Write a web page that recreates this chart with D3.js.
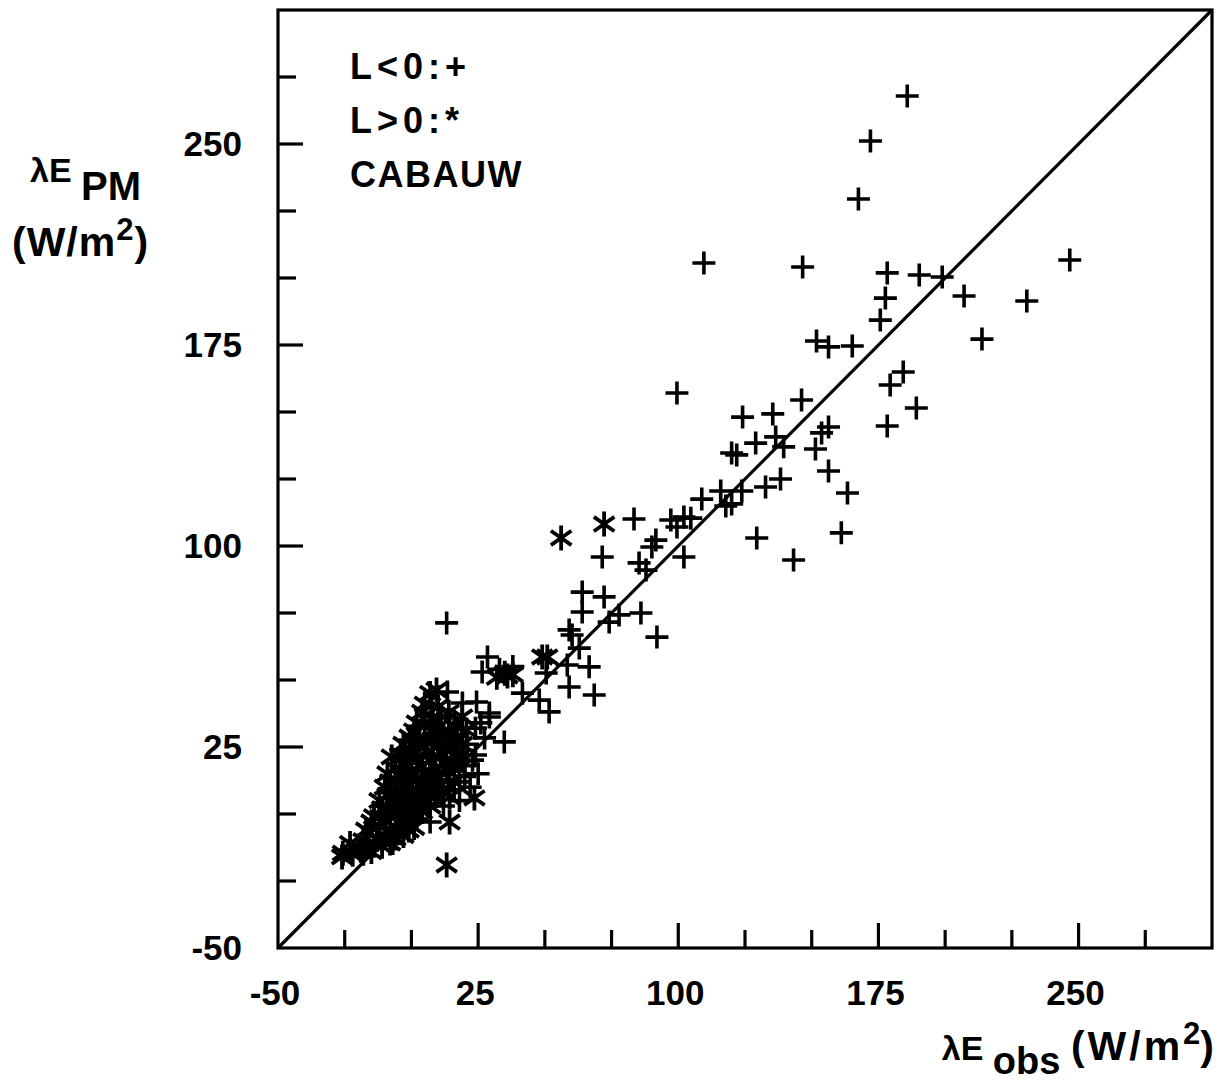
<!DOCTYPE html>
<html>
<head>
<meta charset="utf-8">
<script src="https://cdn.jsdelivr.net/npm/d3@7"></script>
<style>
  html, body { margin: 0; padding: 0; background: #fff; }
  svg { display: block; }
  text { font-family: "Liberation Sans", Arial, Helvetica, sans-serif; font-weight: bold; fill: #000; }
</style>
</head>
<body>
<svg id="chart" width="1224" height="1084"></svg>
<script>
// ---- data (λE_obs, λE_PM) in W/m2 ----
// L<0 (unstable) : plus markers
const unstablePoints = [
  [185.8,267.9],[172.0,251.1],[167.5,229.5],[109.6,205.6],[146.6,204.1],[178.3,201.9],[190.3,201.1],
  [198.9,200.4],[246.7,206.7],[177.6,192.5],[207.1,193.3],[230.6,191.4],[175.7,184.3],[213.8,177.2],
  [151.8,176.5],[156.3,174.3],[165.2,174.6],[99.5,157.1],[184.3,164.9],[179.4,160.1],[189.2,151.5],
  [146.2,154.5],[124.1,148.1],[135.4,149.3],[178.3,144.8],[156.3,144.4],[153.7,142.2],[129.0,138.4],
  [136.5,140.7],[139.5,137.0],[120.0,134.7],[121.9,134.0],[151.4,136.2],[156.3,128.0],[138.3,125.0],
  [132.7,122.0],[163.4,119.8],[108.8,117.5],[115.9,120.5],[123.8,120.5],[120.0,115.7],[117.8,114.9],
  [161.1,104.9],[129.4,103.0],[143.2,94.8],[83.4,110.1],[97.2,109.7],[102.1,110.8],[104.7,110.4],
  [99.5,107.1],[91.6,102.2],[90.1,99.6],[71.5,95.9],[102.1,95.9],[85.3,93.7],[87.9,91.0],[64.0,82.8],
  [72.2,81.0],[64.0,75.4],[77.8,74.3],[74.1,71.6],[86.0,75.0],[92.0,66.0],[59.1,68.7],[60.2,66.8],
  [62.9,61.9],[58.4,55.6],[66.6,54.9],[68.5,44.4],[59.1,47.4],[50.5,52.6],[47.9,42.5],[51.6,38.1],
  [41.6,45.1],[29.2,37.7],[13.2,71.3],
  [13.5,45.5],[19.1,41.4],[24.4,41.8],[29.2,36.2],[34.8,26.9],[27.4,28.4],[22.9,20.1],[16,25],[12,30],
  [14,16],[10,8],[18,12],[6,3],[2,-2],[-3,-6],[-12,-8],[-18,-15],[8,22],[4,14],[-2,2],[21,26],
  [28.5,58.6],[26.5,53],[33,54],[38,55],[24,32],[17,29],[11,36],[-4,24],[-8,8],[25,15],
  [20,18],[16,9],[12,3],[7,-3],[-7,-11],[-14,-12],[0,19],[5,29],[19,22],
  [20,14],[24,22],[18,5],[22,10],[26,34]
];
// L>0 (stable) : asterisk markers
const stablePoints = [
  [-26,-16],[-22,-15],[-19,-13.5],[-15,-14],[-11,-12],
  [-23,-11],[-18,-10],[-13,-9.5],[-8,-10.8],[-3,-8],
  [-17,-6],[-12,-4.5],[-8,-6],[-4,-3],[1,-5],
  [-14,-1],[-9.3,0.4],[-5,1],[0,-1],[4,1],
  [-12,5],[-7,4],[-3,6],[2,5],[6,7],
  [-10,10],[-6,9],[-1,11],[4,10],[8,11],
  [-9,15],[-4,14],[0,16],[5,15],[10,14],[14,16],
  [-7.4,21.3],[-2,19],[2,21],[7,20],[12,19],[17,21],
  [-0.7,28.7],[0,24],[5,25],[10,26],[15,24],[19,26],
  [1,31],[6.8,34],[9,30],[14,31],[20.6,31.3],
  [4,38],[8,36],[19,36.2],
  [9.4,46.3],[7,45],
  [14.3,6.3],[23.6,6],[14.3,-3],[13.2,-19],[-25.7,-14.6],
  [49,58.6],[50.9,58.6],[56.1,103],[72.2,108.2],[32,51],[36,51.5],[38,52],[35,52.5],
  [-20,-12],[-16,-11],[-10,-8],[-6,-9],[-1,-6],
  [-15,-3],[-10,-2],[-6,-1],[-2,-2],[2,0],
  [-11,2],[-6,3],[-1,3],[3,4],[7,3],
  [-9,7],[-4,7],[0,8],[5,8],[9,7],
  [-8,12],[-3,13],[2,13],[7,13],[11,11],
  [-6,17],[-1,18],[4,18],[9,17],[13,19],
  [-4,22],[1,23],[6,23],[11,23],[16,22],
  [-3,26],[3,28],[8,28],[12,27],[17,28],
  [2,34],[11,33],[16,33],
  [5,41],[10,40],[14,38],
  [16,12],[18,17],[12,8]
];
const axisDomain = [-50, 300];
const labeledTicks = [-50, 25, 100, 175, 250];
const minorTicks = [-25, 0, 50, 75, 125, 150, 200, 225, 275];
const legendLines = ["L<0:+", "L>0:*", "CABAUW"];

// ---- drawing ----
const svg = d3.select("#chart");
const padL = 278, padR = 1212, padT = 10, padB = 948;
const x = d3.scaleLinear().domain(axisDomain).range([padL, padR]);
const y = d3.scaleLinear().domain(axisDomain).range([padB, padT]);

// 1:1 line
svg.append("line")
  .attr("x1", x(axisDomain[0])).attr("y1", y(axisDomain[0]))
  .attr("x2", x(axisDomain[1])).attr("y2", y(axisDomain[1]))
  .attr("stroke", "#000").attr("stroke-width", 3.2);

// frame
svg.append("rect")
  .attr("x", padL).attr("y", padT).attr("width", padR - padL).attr("height", padB - padT)
  .attr("fill", "none").attr("stroke", "#000").attr("stroke-width", 3.2);

// ticks (inward)
const tickG = svg.append("g").attr("stroke", "#000").attr("stroke-width", 3.2);
labeledTicks.concat(minorTicks).forEach(v => {
  if (v === axisDomain[0]) return;
  const len = labeledTicks.includes(v) ? 25 : 18;
  tickG.append("line").attr("x1", x(v)).attr("x2", x(v)).attr("y1", padB).attr("y2", padB - len);
  tickG.append("line").attr("y1", y(v)).attr("y2", y(v)).attr("x1", padL).attr("x2", padL + len);
});

// tick labels
labeledTicks.forEach(v => {
  svg.append("text").attr("x", x(v) - 3).attr("y", 1005)
    .attr("text-anchor", "middle").attr("font-size", 35).text(v);
  svg.append("text").attr("x", 242).attr("y", y(v) + 12)
    .attr("text-anchor", "end").attr("font-size", 35).text(v);
});

// markers
const plusR = 11.5;
svg.append("g").selectAll("path").data(unstablePoints).join("path")
  .attr("d", d => {
    const cx = x(d[0]), cy = y(d[1]);
    return `M${cx - plusR},${cy}H${cx + plusR}M${cx},${cy - plusR}V${cy + plusR}`;
  })
  .attr("stroke", "#000").attr("stroke-width", 3.6).attr("fill", "none");

const astR = 12.5, ang = 35 * Math.PI / 180;
svg.append("g").selectAll("path").data(stablePoints).join("path")
  .attr("d", d => {
    const cx = x(d[0]), cy = y(d[1]);
    const dx = astR * Math.cos(ang), dy = astR * Math.sin(ang);
    return `M${cx},${cy - astR}V${cy + astR}` +
           `M${cx - dx},${cy - dy}L${cx + dx},${cy + dy}` +
           `M${cx - dx},${cy + dy}L${cx + dx},${cy - dy}`;
  })
  .attr("stroke", "#000").attr("stroke-width", 3.8).attr("fill", "none");

// legend text
legendLines.forEach((t, i) => {
  svg.append("text").attr("x", 350).attr("y", 79 + i * 54)
    .attr("font-size", 36)
    .attr("letter-spacing", i < 2 ? 5 : 1.5)
    .text(t);
});

// y axis title
const yt = svg.append("text").attr("x", 30).attr("y", 182);
yt.append("tspan").attr("font-size", 34).text("λE ");
yt.append("tspan").attr("font-size", 40).attr("dy", 18).text("PM");
const yt2 = svg.append("text").attr("x", 12).attr("y", 256).attr("font-size", 41).attr("letter-spacing", 1);
yt2.append("tspan").text("(W/m");
yt2.append("tspan").attr("font-size", 31).attr("dy", -16).text("2");
yt2.append("tspan").attr("dy", 16).text(")");

// x axis title
const xt = svg.append("text").attr("x", 1214).attr("y", 1060).attr("text-anchor", "end");
xt.append("tspan").attr("font-size", 34).text("λE ");
xt.append("tspan").attr("font-size", 38).attr("dy", 14).text("obs ");
xt.append("tspan").attr("font-size", 41).attr("letter-spacing", 3).attr("dy", -14).text("(W/m");
xt.append("tspan").attr("font-size", 31).attr("dy", -16).text("2");
xt.append("tspan").attr("font-size", 41).attr("dy", 16).text(")");
</script>
</body>
</html>
